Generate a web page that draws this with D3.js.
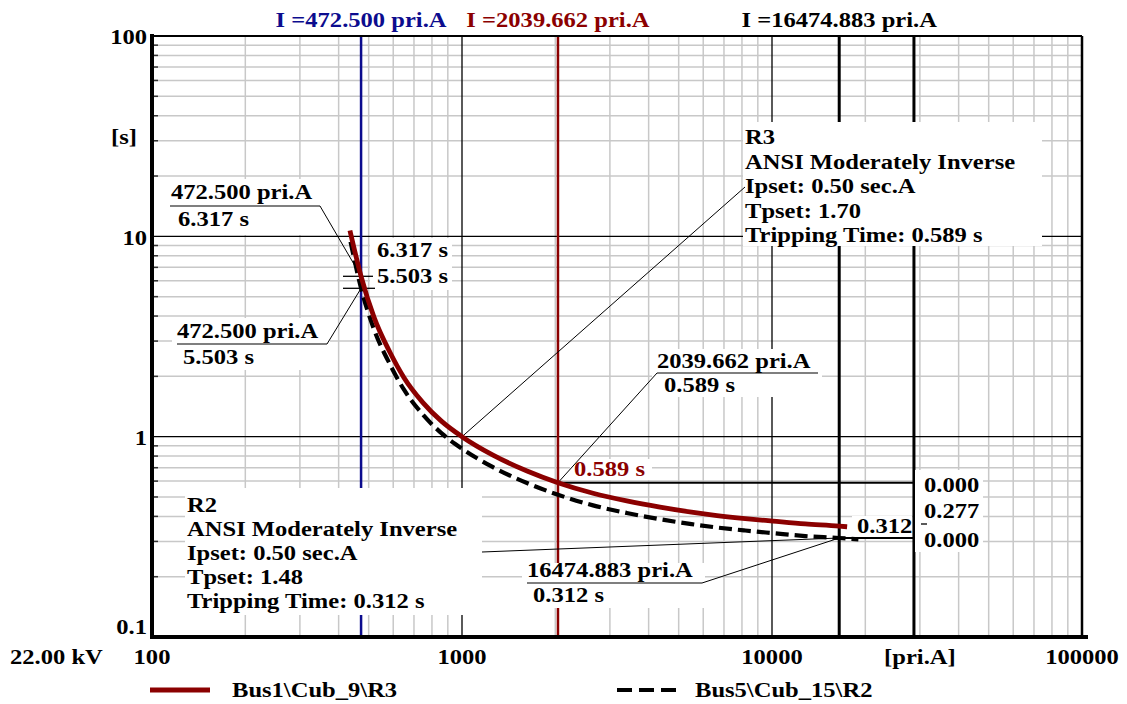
<!DOCTYPE html>
<html>
<head>
<meta charset="utf-8">
<script src="https://cdn.jsdelivr.net/npm/d3@7"></script>
<style>
	html, body { margin: 0; padding: 0; background: #fff; }
	svg text { font-family: "Liberation Serif", "Times New Roman", serif; font-weight: bold; font-size: 21px; }
</style>
</head>
<body>
<div id="chart"></div>
<script>
'use strict';

// relay curves, current [pri.A] vs tripping time [s]
var r3Current = [435, 472.5, 520, 586, 650, 748, 860, 1000, 1259, 1621, 2039.662, 2647, 3400, 4352, 5500, 6645, 8200, 10070, 12800, 16474.883, 17470];
var r3Time = [10.7, 6.317, 3.95, 2.63, 1.97, 1.48, 1.192, 1.0, 0.809, 0.674, 0.589, 0.522, 0.478, 0.445, 0.42, 0.404, 0.39, 0.379, 0.367, 0.358, 0.355];
var r2Current = [437, 472.5, 520, 586, 650, 748, 860, 1000, 1259, 1621, 2039.662, 2647, 3400, 4352, 5500, 6645, 8200, 10070, 12800, 16474.883, 19000];
var r2Time = [9.4, 5.503, 3.44, 2.29, 1.715, 1.288, 1.038, 0.871, 0.704, 0.587, 0.513, 0.454, 0.416, 0.387, 0.366, 0.352, 0.34, 0.33, 0.319, 0.312, 0.307];

var seriesNames = ["Bus1\\Cub_9\\R3", "Bus5\\Cub_15\\R2"];

// current cursors and the grading bar
var cursorCurrents = [472.5, 2039.662, 16474.883];
var cursorLabels = ["I =472.500 pri.A", "I =2039.662 pri.A", "I =16474.883 pri.A"];
var gradingCurrent = 28700;
var gradingLabels = ["0.000", "0.277", "0.000"];

var xTicks = [100, 1000, 10000, 100000];
var xTickLabels = ["100", "1000", "10000", "100000"];
var yTicks = [0.1, 1, 10, 100];
var yTickLabels = ["0.1", "1", "10", "100"];

var r3Info = ["R3", "ANSI Moderately Inverse", "Ipset: 0.50 sec.A", "Tpset: 1.70", "Tripping Time: 0.589 s"];
var r2Info = ["R2", "ANSI Moderately Inverse", "Ipset: 0.50 sec.A", "Tpset: 1.48", "Tripping Time: 0.312 s"];

var RED = "#8b0000";
var BLUE = "#0c0c8e";
var GRID = "#c8c8c8";

var width = 1127, height = 704;

var svg = d3.select("#chart").append("svg")
	.attr("width", width)
	.attr("height", height);

var x = d3.scaleLog().domain([100, 100000]).range([152, 1082]);
var y = d3.scaleLog().domain([0.1, 100]).range([637, 36]);

function addText(sel, px, py, str, color, anchor) {
	return sel.append("text")
		.attr("transform", "translate(" + px + "," + py + ") scale(1.17,1)")
		.attr("text-anchor", anchor || "start")
		.attr("dy", "0.35em")
		.attr("fill", color || "#000")
		.text(str);
}

function addLine(sel, x1, y1, x2, y2, color, w) {
	return sel.append("line")
		.attr("x1", x1).attr("y1", y1)
		.attr("x2", x2).attr("y2", y2)
		.attr("stroke", color)
		.attr("stroke-width", w);
}

function addBox(sel, bx, by, bw, bh) {
	return sel.append("rect")
		.attr("x", bx).attr("y", by)
		.attr("width", bw).attr("height", bh)
		.attr("fill", "#fff");
}

// minor / major grid
var minorX = [], minorY = [];
[100, 1000, 10000].forEach(function (d) {
	for (var k = 2; k <= 9; k++) minorX.push(d * k);
});
[0.1, 1, 10].forEach(function (d) {
	for (var k = 2; k <= 9; k++) minorY.push(d * k);
});

var grid = svg.append("g");
grid.selectAll(".gx").data(minorX).enter().append("line")
	.attr("x1", x).attr("x2", x)
	.attr("y1", y(100)).attr("y2", y(0.1))
	.attr("stroke", GRID).attr("stroke-width", 1.5);
grid.selectAll(".gy").data(minorY).enter().append("line")
	.attr("y1", y).attr("y2", y)
	.attr("x1", x(100)).attr("x2", x(100000))
	.attr("stroke", GRID).attr("stroke-width", 1.5);
grid.selectAll(".mx").data([1000, 10000]).enter().append("line")
	.attr("x1", x).attr("x2", x)
	.attr("y1", y(100)).attr("y2", y(0.1))
	.attr("stroke", "#000").attr("stroke-width", 1.3);
grid.selectAll(".my").data([1, 10]).enter().append("line")
	.attr("y1", y).attr("y2", y)
	.attr("x1", x(100)).attr("x2", x(100000))
	.attr("stroke", "#000").attr("stroke-width", 1.3);
grid.selectAll(".ty").data(minorY).enter().append("line")
	.attr("y1", y).attr("y2", y)
	.attr("x1", x(100)).attr("x2", x(100) + 6)
	.attr("stroke", "#333").attr("stroke-width", 1.5);

// cursor lines
var cursorColors = [BLUE, RED, "#000"];
var cursorWidths = [2.5, 2.5, 3];
var cursors = svg.append("g");
cursors.selectAll("line").data(cursorCurrents).enter().append("line")
	.attr("x1", x).attr("x2", x)
	.attr("y1", y(100)).attr("y2", y(0.1))
	.attr("stroke", function (d, i) { return cursorColors[i]; })
	.attr("stroke-width", function (d, i) { return cursorWidths[i]; });
addLine(cursors, x(gradingCurrent), y(100), x(gradingCurrent), y(0.1), "#000", 3);

cursors.selectAll("text").data(cursorLabels).enter().each(function (d, i) {
	addText(d3.select(this), x(cursorCurrents[i]), 20, d, cursorColors[i], "middle");
});

// grading lines at the two tripping times
addLine(svg, x(2039.662), y(0.589), x(gradingCurrent) + 8, y(0.589), "#000", 2);
addLine(svg, x(16474.883), y(0.312), x(gradingCurrent) + 8, y(0.312), "#000", 2);

// label backgrounds
var ann = svg.append("g");
addBox(ann, 743, 122, 299, 124);
addBox(ann, 185, 488, 297, 127);
addBox(ann, 168, 179, 154, 56);
addBox(ann, 172, 318, 158, 52);
addBox(ann, 370, 238, 82, 52);
addBox(ann, 652, 349, 170, 48);
addBox(ann, 570, 459, 82, 21);
addBox(ann, 852, 516, 60, 21);
addBox(ann, 915, 470, 68, 82);
addBox(ann, 522, 563, 183, 45);

// leaders and underlines
var thin = 1;
addLine(ann, 745, 187, x(1000), y(r3Time[7]), "#000", thin);
addLine(ann, 482, 552, x(16474.883), y(0.312), "#000", thin);

addLine(ann, 170, 206, 320, 206, "#000", 1.2);
addLine(ann, 320, 206, x(472.5), y(6.317), "#000", thin);
addLine(ann, 177, 344, 327, 344, "#000", 1.2);
addLine(ann, 327, 344, x(472.5), y(5.503), "#000", thin);
addLine(ann, 343, y(6.317), 373, y(6.317), "#000", 1.3);
addLine(ann, 343, y(5.503), 375, y(5.503), "#000", 1.3);

addLine(ann, 657, 373, 818, 373, "#000", 1.2);
addLine(ann, 657, 373, x(2039.662), y(0.589), "#000", thin);
addLine(ann, 527, 583, 702, 583, "#000", 1.2);
addLine(ann, 702, 583, x(16474.883), y(0.312), "#000", thin);
addLine(ann, 921, 524, 927, 524, "#000", 1.3);

// label texts
r3Info.forEach(function (s, i) { addText(ann, 745, 137 + i * 24.5, s); });
r2Info.forEach(function (s, i) { addText(ann, 187, 505 + i * 24, s); });
addText(ann, 171, 192, "472.500 pri.A");
addText(ann, 178, 219, "6.317 s");
addText(ann, 177, 331, "472.500 pri.A");
addText(ann, 183, 357, "5.503 s");
addText(ann, 377, 250, "6.317 s");
addText(ann, 377, 276, "5.503 s");
addText(ann, 657, 361, "2039.662 pri.A");
addText(ann, 664, 385, "0.589 s");
addText(ann, 574, 469, "0.589 s", RED);
addText(ann, 857, 526, "0.312");
addText(ann, 924, 485, gradingLabels[0]);
addText(ann, 924, 511, gradingLabels[1]);
addText(ann, 924, 540, gradingLabels[2]);
addText(ann, 527, 570, "16474.883 pri.A");
addText(ann, 533, 595, "0.312 s");

// curves
var line = d3.line()
	.x(function (d) { return x(d[0]); })
	.y(function (d) { return y(d[1]); })
	.curve(d3.curveMonotoneX);

var r3Data = d3.zip(r3Current, r3Time);
var r2Data = d3.zip(r2Current, r2Time);

svg.append("path")
	.datum(r2Data)
	.attr("d", line)
	.attr("fill", "none")
	.attr("stroke", "#000")
	.attr("stroke-width", 4.2)
	.attr("stroke-dasharray", "13,6");

svg.append("path")
	.datum(r3Data)
	.attr("d", line)
	.attr("fill", "none")
	.attr("stroke", RED)
	.attr("stroke-width", 4.8);

// axes frame
var frame = svg.append("g");
addLine(frame, x(100), y(100), x(100000), y(100), "#000", 2);
addLine(frame, x(100000), y(100), x(100000), y(0.1), "#000", 2.5);
addLine(frame, x(100), y(100) - 2, x(100), y(0.1) + 2, "#000", 4);
addLine(frame, x(100) - 2, y(0.1), x(100000) + 6, y(0.1), "#000", 4);

xTicks.forEach(function (v, i) {
	addText(frame, x(v), 657, xTickLabels[i], "#000", "middle");
});
addText(frame, x(30000), 657, "[pri.A]", "#000", "middle");
addText(frame, 10, 657, "22.00 kV");

yTicks.forEach(function (v, i) {
	var py = v === 0.1 ? y(v) - 10 : y(v) + 1;
	addText(frame, 147, py, yTickLabels[i], "#000", "end");
});
addText(frame, 124, 137, "[s]", "#000", "middle");

// legend
var legend = svg.append("g");
addLine(legend, 150, 690, 210, 690, RED, 5);
addText(legend, 232, 690, seriesNames[0]);
addLine(legend, 617, 690, 680, 690, "#000", 4).attr("stroke-dasharray", "15,7");
addText(legend, 695, 690, seriesNames[1]);
</script>
</body>
</html>
